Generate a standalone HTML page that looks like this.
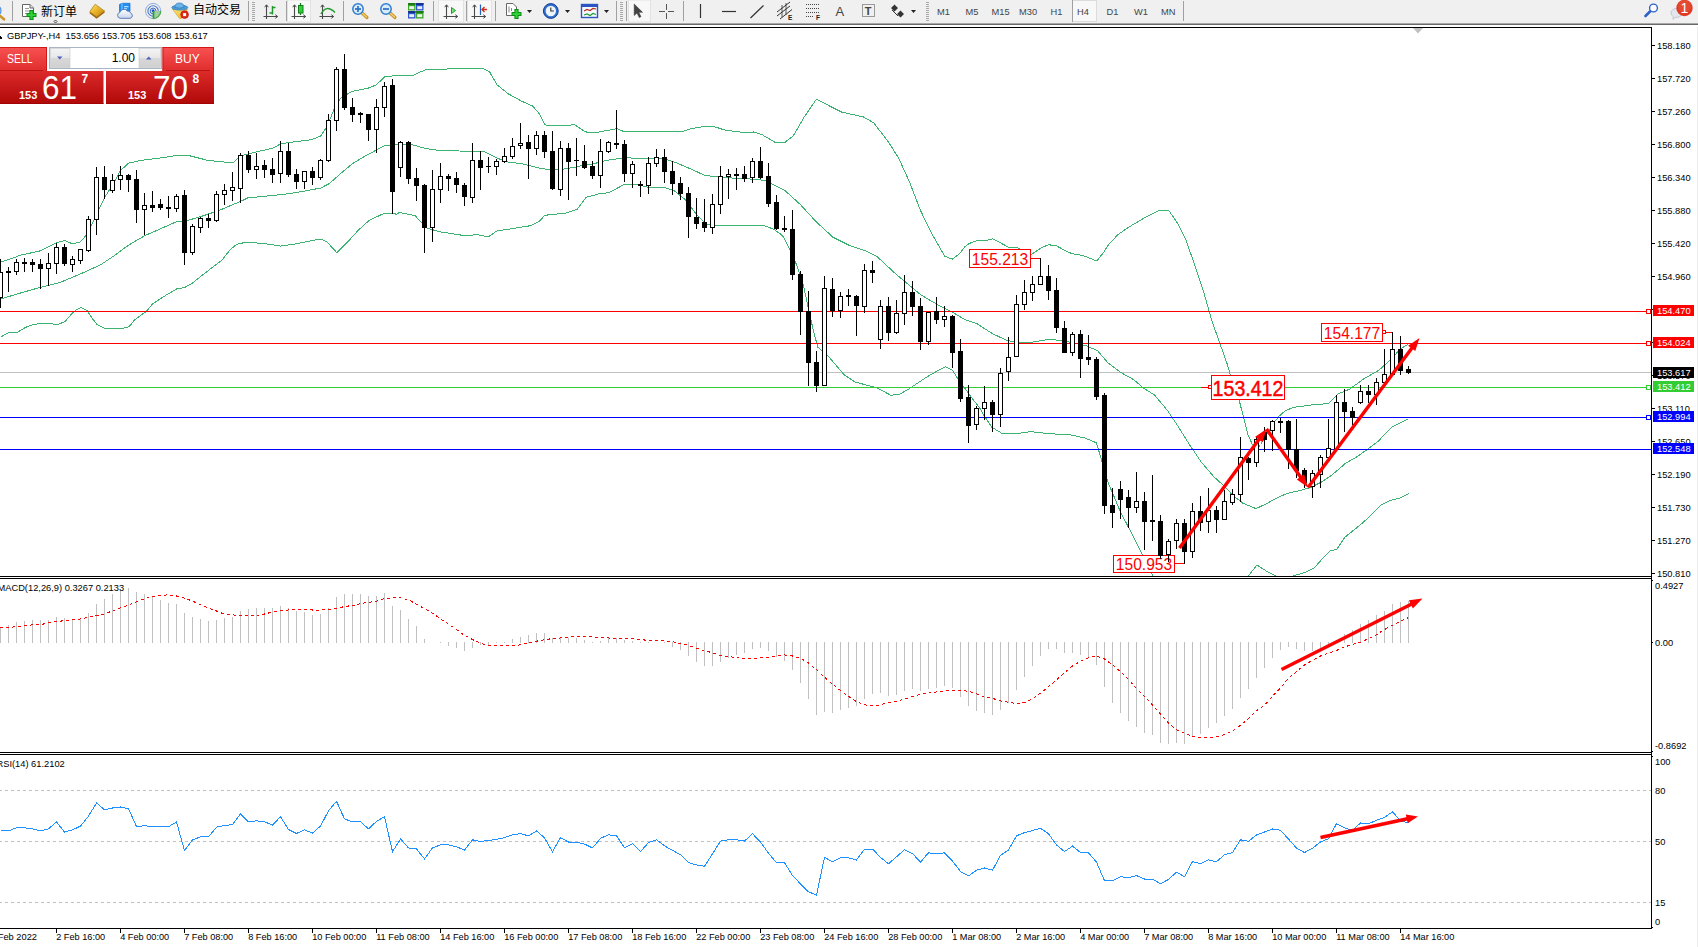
<!DOCTYPE html>
<html lang="zh"><head><meta charset="utf-8"><title>GBPJPY H4</title>
<style>
html,body{margin:0;padding:0;background:#fff}
body{width:1698px;height:947px;overflow:hidden;position:relative;font-family:"Liberation Sans","Noto Sans CJK SC",sans-serif}
svg{display:block}
</style></head><body>
<svg width="1698" height="947" viewBox="0 0 1698 947" style="position:absolute;left:0;top:0" shape-rendering="crispEdges" font-family="'Liberation Sans',sans-serif">
<defs><clipPath id="cm"><rect x="0" y="28" width="1651" height="548"/></clipPath><clipPath id="c2"><rect x="0" y="579" width="1651" height="173"/></clipPath><clipPath id="c3"><rect x="0" y="755" width="1651" height="173"/></clipPath></defs>
<rect x="0" y="27" width="1652" height="1" fill="#000"/>
<rect x="1651" y="27" width="1" height="902" fill="#000"/>
<rect x="0" y="576" width="1652" height="1" fill="#000"/>
<rect x="0" y="578" width="1652" height="1" fill="#000"/>
<rect x="0" y="752" width="1652" height="1" fill="#000"/>
<rect x="0" y="754" width="1652" height="1" fill="#000"/>
<rect x="0" y="928" width="1652" height="1" fill="#000"/>
<rect x="1697" y="24" width="1" height="923" fill="#ececec"/>
<polygon points="1413,28 1423,28 1418,33.5" fill="#c0c0c0" shape-rendering="geometricPrecision"/>
<g clip-path="url(#cm)">
<rect x="0" y="372" width="1651" height="1" fill="#c0c0c0"/>
<polyline points="0.5,262.3 10.5,258.9 20.5,255.2 40.5,250.8 56.5,242.8 64.5,240.5 72.5,243.8 80.5,241.8 86.5,234.8 94.5,218.7 104.5,197.7 112.5,185.0 120.5,170.6 128.5,163.2 140.5,160.5 160.5,158.0 176.5,155.5 188.5,155.5 200.5,158.5 207.5,160.3 233.1,162.9 240.8,155.8 258.5,151.4 273.0,148.1 281.0,143.6 311.8,139.6 320.7,135.9 327.3,125.9 334.0,109.3 340.5,98.2 351.7,91.5 369.5,87.8 376.1,84.9 385.0,76.7 396.5,75.5 412.9,75.4 426.2,69.4 452.8,68.9 483.8,68.9 489.4,71.6 497.1,84.9 508.2,93.8 521.5,101.1 532.6,106.0 539.3,113.7 544.8,124.8 552.6,125.9 574.8,124.8 584.7,131.5 587.2,132.2 598.2,132.2 617.1,128.6 624.8,132.0 647.0,131.1 669.2,131.1 682.5,131.5 691.4,128.6 704.7,126.4 713.5,126.4 724.6,130.0 744.6,132.6 753.5,132.0 762.3,134.8 775.6,142.6 780.5,143.0 784.9,142.4 793.3,135.8 803.9,117.5 816.5,99.1 829.2,105.8 841.9,112.2 863.0,116.8 873.6,122.7 888.3,141.7 898.9,158.6 909.5,181.9 920.0,209.3 930.6,231.5 944.7,256.2 952.2,259.2 959.6,253.6 964.9,246.7 969.1,243.5 976.5,240.9 986.1,240.7 992.5,238.8 999.9,242.5 1009.4,247.8 1017.9,248.0 1020.5,249.4 1026.5,254.0 1031.7,254.1 1035.9,251.5 1042.3,247.2 1048.6,244.8 1056.1,245.6 1065.6,250.9 1072.0,253.6 1081.5,255.2 1088.9,257.8 1096.9,261.0 1103.8,252.0 1109.0,244.0 1112.2,240.9 1117.6,234.9 1129.0,227.0 1143.3,218.5 1159.0,210.5 1168.9,210.5 1177.5,223.3 1186.1,240.4 1194.6,264.7 1203.2,290.4 1211.7,320.3 1220.3,344.6 1227.4,364.5 1233.3,385.0 1239.6,401.9 1243.9,418.8 1247.8,434.3 1252.4,444.7 1257.5,448.5 1260.5,444.5 1267.5,433.5 1275.2,421.0 1279.0,416.2 1285.5,410.5 1294.5,407.2 1311.5,405.0 1328.3,403.6 1337.8,394.1 1349.5,389.2 1364.2,378.6 1379.0,370.2 1391.7,358.6 1400.1,349.1 1408.6,343.8" fill="none" stroke="#3cb371" stroke-width="1" />
<polyline points="0.5,299.0 20.5,293.0 40.5,287.3 60.5,282.3 80.5,273.9 100.5,264.9 112.5,256.9 128.5,245.2 144.5,235.8 160.5,228.8 176.5,221.7 184.5,221.3 200.5,216.7 218.7,210.6 240.8,201.3 247.5,198.0 285.2,194.2 307.4,190.6 320.7,188.0 329.5,183.5 340.6,173.6 351.7,164.2 362.8,157.4 373.9,151.4 385.0,145.4 396.5,144.7 410.7,144.3 426.2,148.7 441.7,150.7 459.5,151.0 483.8,151.4 494.9,157.0 506.0,161.8 521.5,163.6 539.3,168.0 552.6,170.3 563.7,169.1 577.0,166.9 580.5,165.9 593.8,163.7 607.1,160.3 624.8,157.7 647.0,158.8 664.8,158.8 675.8,162.6 691.4,169.2 704.7,175.4 722.4,177.6 744.6,178.5 764.5,180.3 780.5,188.1 784.9,190.5 800.0,204.2 816.5,222.1 832.9,237.2 849.4,245.4 865.9,250.9 876.9,256.4 896.1,274.3 920.9,294.9 937.3,304.5 951.1,311.4 964.8,319.6 977.2,323.9 992.0,333.4 1006.7,340.4 1019.5,342.9 1034.2,341.9 1049.0,339.3 1059.5,340.4 1074.3,342.9 1087.0,346.1 1097.5,350.7 1108.1,363.0 1120.8,372.5 1133.5,379.5 1144.0,388.5 1154.5,395.0 1167.2,410.1 1177.8,425.9 1188.3,442.8 1201.0,461.8 1213.7,476.6 1224.2,486.1 1234.8,497.3 1240.5,500.9 1242.8,503.2 1256.0,508.6 1265.9,504.0 1275.8,498.5 1287.4,493.3 1298.9,490.8 1310.5,487.5 1322.0,481.7 1331.9,475.1 1345.1,463.6 1356.6,457.0 1368.2,448.7 1378.1,441.3 1391.7,427.2 1408.6,418.8" fill="none" stroke="#3cb371" stroke-width="1" />
<polyline points="0.5,337.1 8.1,333.0 17.0,332.6 25.8,327.3 32.2,324.8 38.5,323.8 52.5,323.8 56.3,325.0 65.1,321.6 71.5,314.0 76.5,309.6 81.0,307.7 86.7,310.2 91.8,317.8 96.8,324.2 105.1,328.8 120.9,328.8 129.1,326.7 134.8,319.7 139.9,315.9 146.3,311.5 152.5,303.9 165.3,295.6 176.7,288.9 184.3,287.6 191.9,283.6 200.5,276.6 222.0,260.0 229.8,250.1 236.4,244.5 245.3,242.3 263.0,243.4 280.8,246.1 296.3,243.8 311.8,240.7 320.7,239.0 327.3,242.3 336.9,252.7 347.3,242.3 358.4,230.1 369.5,220.1 385.0,213.0 396.5,214.1 399.5,212.4 415.1,215.7 426.2,227.9 439.5,231.7 465.0,235.7 477.2,234.6 488.3,236.8 497.1,230.8 512.7,228.6 530.4,225.7 539.3,221.3 544.8,215.3 565.9,213.0 577.0,209.5 580.5,204.7 586.0,197.4 598.2,194.0 609.3,192.5 624.8,184.1 638.1,184.7 647.0,187.0 662.5,187.0 673.6,190.3 684.7,199.1 695.8,213.6 706.9,224.6 715.8,225.8 764.5,225.8 773.4,229.1 780.5,234.0 783.5,237.2 794.5,259.2 802.7,282.5 813.7,332.0 817.8,347.1 827.5,355.3 843.9,374.5 854.9,382.0 876.9,387.8 890.6,395.2 898.9,394.6 909.9,388.3 926.4,377.3 937.3,371.0 945.6,366.9 952.5,370.4 962.1,385.5 964.5,387.7 970.8,396.8 979.3,407.3 985.5,417.9 992.0,427.4 1002.5,433.7 1017.3,433.7 1030.0,431.6 1049.0,433.7 1070.1,434.8 1084.9,438.0 1096.5,442.8 1101.7,460.8 1108.1,482.5 1120.7,512.5 1131.3,532.6 1141.9,553.7 1152.4,574.8 1160.5,590.5 1200.5,610.5 1240.5,590.5 1248.6,575.7 1256.9,565.0 1265.9,570.8 1275.8,576.1 1283.5,577.5 1292.3,576.1 1305.5,572.4 1313.8,568.3 1322.0,559.2 1330.2,551.0 1336.8,549.3 1345.1,537.0 1356.6,527.9 1368.2,518.0 1381.4,504.8 1389.6,500.7 1399.5,498.2 1408.6,493.6" fill="none" stroke="#3cb371" stroke-width="1" />
<rect x="0" y="311" width="1651" height="1" fill="#ff0000"/>
<rect x="0" y="343" width="1651" height="1" fill="#ff0000"/>
<rect x="0" y="387" width="1651" height="1" fill="#32cd32"/>
<rect x="0" y="417" width="1651" height="1" fill="#0000ff"/>
<rect x="0" y="449" width="1651" height="1" fill="#0000ff"/>
<rect x="1646.5" y="309.5" width="4" height="4" fill="#fff" stroke="#ff0000" stroke-width="1"/>
<rect x="1646.5" y="341.5" width="4" height="4" fill="#fff" stroke="#ff0000" stroke-width="1"/>
<rect x="1646.5" y="385.5" width="4" height="4" fill="#fff" stroke="#32cd32" stroke-width="1"/>
<rect x="1646.5" y="415.5" width="4" height="4" fill="#fff" stroke="#0000ff" stroke-width="1"/>
</g>
<rect x="969.5" y="249.5" width="61" height="18" fill="#fff" stroke="#ff0000" stroke-width="1"/><text transform="translate(1000.0,265.2) scale(1,1)" font-size="15.6" fill="#ff0000" text-anchor="middle">155.213</text>
<rect x="1030" y="258" width="10" height="1" fill="#ff0000"/>
<rect x="1113.5" y="555.5" width="61" height="17" fill="#fff" stroke="#ff0000" stroke-width="1"/><text transform="translate(1144.0,569.6) scale(1,1)" font-size="15.6" fill="#ff0000" text-anchor="middle">150.953</text>
<rect x="1174" y="563" width="11" height="1" fill="#ff0000"/>
<rect x="1184" y="558" width="1" height="5" fill="#ff0000"/>
<rect x="1321.5" y="323.5" width="61" height="18" fill="#fff" stroke="#ff0000" stroke-width="1"/><text transform="translate(1352.0,338.6) scale(1,1)" font-size="15.6" fill="#ff0000" text-anchor="middle">154.177</text>
<rect x="1382.5" y="330.5" width="3" height="3" fill="#fff" stroke="#ff0000"/>
<rect x="1386" y="332" width="6" height="1" fill="#ff0000"/>
<rect x="1201" y="387" width="7" height="1" fill="#ff0000"/>
<rect x="1208.5" y="385.5" width="3" height="3" fill="#fff" stroke="#ff0000"/>
<rect x="1211.5" y="375.5" width="73" height="24" fill="#fff" stroke="#ff0000" stroke-width="1"/><text transform="translate(1248.0,396) scale(1,1.085)" font-size="19.6" fill="#ff0000" text-anchor="middle" stroke="#ff0000" stroke-width="0.45">153.412</text>
<g clip-path="url(#cm)">
<rect x="0" y="259" width="1" height="49" fill="#000"/>
<rect x="-1.5" y="272.5" width="4" height="25" fill="#fff" stroke="#000" stroke-width="1"/>
<rect x="8" y="267" width="1" height="25" fill="#000"/>
<rect x="6" y="271" width="5" height="2" fill="#000"/>
<rect x="16" y="259" width="1" height="16" fill="#000"/>
<rect x="14.5" y="262.5" width="4" height="9" fill="#fff" stroke="#000" stroke-width="1"/>
<rect x="24" y="258" width="1" height="14" fill="#000"/>
<rect x="22" y="262" width="5" height="2" fill="#000"/>
<rect x="32" y="259" width="1" height="13" fill="#000"/>
<rect x="30" y="262" width="5" height="3" fill="#000"/>
<rect x="40" y="259" width="1" height="30" fill="#000"/>
<rect x="38" y="264" width="5" height="5" fill="#000"/>
<rect x="48" y="253" width="1" height="33" fill="#000"/>
<rect x="46.5" y="263.5" width="4" height="5" fill="#fff" stroke="#000" stroke-width="1"/>
<rect x="56" y="243" width="1" height="31" fill="#000"/>
<rect x="54.5" y="247.5" width="4" height="16" fill="#fff" stroke="#000" stroke-width="1"/>
<rect x="64" y="244" width="1" height="22" fill="#000"/>
<rect x="62" y="247" width="5" height="17" fill="#000"/>
<rect x="72" y="256" width="1" height="16" fill="#000"/>
<rect x="70.5" y="259.5" width="4" height="5" fill="#fff" stroke="#000" stroke-width="1"/>
<rect x="80" y="249" width="1" height="15" fill="#000"/>
<rect x="78.5" y="249.5" width="4" height="11" fill="#fff" stroke="#000" stroke-width="1"/>
<rect x="88" y="216" width="1" height="36" fill="#000"/>
<rect x="86.5" y="219.5" width="4" height="31" fill="#fff" stroke="#000" stroke-width="1"/>
<rect x="96" y="167" width="1" height="68" fill="#000"/>
<rect x="94.5" y="177.5" width="4" height="42" fill="#fff" stroke="#000" stroke-width="1"/>
<rect x="104" y="166" width="1" height="33" fill="#000"/>
<rect x="102" y="177" width="5" height="13" fill="#000"/>
<rect x="112" y="174" width="1" height="19" fill="#000"/>
<rect x="110.5" y="180.5" width="4" height="10" fill="#fff" stroke="#000" stroke-width="1"/>
<rect x="120" y="166" width="1" height="24" fill="#000"/>
<rect x="118.5" y="175.5" width="4" height="4" fill="#fff" stroke="#000" stroke-width="1"/>
<rect x="128" y="174" width="1" height="18" fill="#000"/>
<rect x="126" y="175" width="5" height="5" fill="#000"/>
<rect x="136" y="170" width="1" height="53" fill="#000"/>
<rect x="134" y="179" width="5" height="31" fill="#000"/>
<rect x="144" y="193" width="1" height="42" fill="#000"/>
<rect x="142.5" y="205.5" width="4" height="4" fill="#fff" stroke="#000" stroke-width="1"/>
<rect x="152" y="191" width="1" height="21" fill="#000"/>
<rect x="150" y="205" width="5" height="3" fill="#000"/>
<rect x="160" y="199" width="1" height="11" fill="#000"/>
<rect x="158" y="204" width="5" height="4" fill="#000"/>
<rect x="168" y="196" width="1" height="22" fill="#000"/>
<rect x="166" y="207" width="5" height="2" fill="#000"/>
<rect x="176" y="194" width="1" height="18" fill="#000"/>
<rect x="174.5" y="196.5" width="4" height="12" fill="#fff" stroke="#000" stroke-width="1"/>
<rect x="184" y="190" width="1" height="75" fill="#000"/>
<rect x="182" y="195" width="5" height="58" fill="#000"/>
<rect x="192" y="224" width="1" height="31" fill="#000"/>
<rect x="190.5" y="226.5" width="4" height="26" fill="#fff" stroke="#000" stroke-width="1"/>
<rect x="200" y="217" width="1" height="16" fill="#000"/>
<rect x="198.5" y="218.5" width="4" height="9" fill="#fff" stroke="#000" stroke-width="1"/>
<rect x="208" y="214" width="1" height="14" fill="#000"/>
<rect x="206" y="218" width="5" height="3" fill="#000"/>
<rect x="216" y="191" width="1" height="31" fill="#000"/>
<rect x="214.5" y="194.5" width="4" height="26" fill="#fff" stroke="#000" stroke-width="1"/>
<rect x="224" y="184" width="1" height="21" fill="#000"/>
<rect x="222.5" y="190.5" width="4" height="4" fill="#fff" stroke="#000" stroke-width="1"/>
<rect x="232" y="172" width="1" height="29" fill="#000"/>
<rect x="230.5" y="187.5" width="4" height="3" fill="#fff" stroke="#000" stroke-width="1"/>
<rect x="240" y="153" width="1" height="50" fill="#000"/>
<rect x="238.5" y="155.5" width="4" height="33" fill="#fff" stroke="#000" stroke-width="1"/>
<rect x="248" y="151" width="1" height="22" fill="#000"/>
<rect x="246" y="155" width="5" height="15" fill="#000"/>
<rect x="256" y="153" width="1" height="26" fill="#000"/>
<rect x="254.5" y="166.5" width="4" height="3" fill="#fff" stroke="#000" stroke-width="1"/>
<rect x="264" y="160" width="1" height="18" fill="#000"/>
<rect x="262" y="165" width="5" height="5" fill="#000"/>
<rect x="272" y="158" width="1" height="25" fill="#000"/>
<rect x="270" y="169" width="5" height="6" fill="#000"/>
<rect x="280" y="141" width="1" height="42" fill="#000"/>
<rect x="278.5" y="151.5" width="4" height="22" fill="#fff" stroke="#000" stroke-width="1"/>
<rect x="288" y="143" width="1" height="34" fill="#000"/>
<rect x="286" y="151" width="5" height="24" fill="#000"/>
<rect x="296" y="169" width="1" height="20" fill="#000"/>
<rect x="294" y="174" width="5" height="8" fill="#000"/>
<rect x="304" y="171" width="1" height="18" fill="#000"/>
<rect x="302.5" y="171.5" width="4" height="10" fill="#fff" stroke="#000" stroke-width="1"/>
<rect x="312" y="167" width="1" height="18" fill="#000"/>
<rect x="310" y="171" width="5" height="7" fill="#000"/>
<rect x="320" y="159" width="1" height="21" fill="#000"/>
<rect x="318.5" y="160.5" width="4" height="17" fill="#fff" stroke="#000" stroke-width="1"/>
<rect x="328" y="114" width="1" height="48" fill="#000"/>
<rect x="326.5" y="120.5" width="4" height="40" fill="#fff" stroke="#000" stroke-width="1"/>
<rect x="336" y="67" width="1" height="64" fill="#000"/>
<rect x="334.5" y="69.5" width="4" height="51" fill="#fff" stroke="#000" stroke-width="1"/>
<rect x="344" y="54" width="1" height="56" fill="#000"/>
<rect x="342" y="69" width="5" height="39" fill="#000"/>
<rect x="352" y="98" width="1" height="24" fill="#000"/>
<rect x="350" y="107" width="5" height="8" fill="#000"/>
<rect x="360" y="112" width="1" height="11" fill="#000"/>
<rect x="358" y="113" width="5" height="2" fill="#000"/>
<rect x="368" y="114" width="1" height="27" fill="#000"/>
<rect x="366" y="114" width="5" height="16" fill="#000"/>
<rect x="376" y="99" width="1" height="54" fill="#000"/>
<rect x="374.5" y="107.5" width="4" height="22" fill="#fff" stroke="#000" stroke-width="1"/>
<rect x="384" y="82" width="1" height="35" fill="#000"/>
<rect x="382.5" y="86.5" width="4" height="21" fill="#fff" stroke="#000" stroke-width="1"/>
<rect x="392" y="79" width="1" height="135" fill="#000"/>
<rect x="390" y="85" width="5" height="107" fill="#000"/>
<rect x="400" y="141" width="1" height="36" fill="#000"/>
<rect x="398.5" y="142.5" width="4" height="25" fill="#fff" stroke="#000" stroke-width="1"/>
<rect x="408" y="141" width="1" height="43" fill="#000"/>
<rect x="406" y="142" width="5" height="37" fill="#000"/>
<rect x="416" y="168" width="1" height="33" fill="#000"/>
<rect x="414" y="178" width="5" height="8" fill="#000"/>
<rect x="424" y="184" width="1" height="69" fill="#000"/>
<rect x="422" y="185" width="5" height="43" fill="#000"/>
<rect x="432" y="170" width="1" height="72" fill="#000"/>
<rect x="430.5" y="189.5" width="4" height="38" fill="#fff" stroke="#000" stroke-width="1"/>
<rect x="440" y="163" width="1" height="40" fill="#000"/>
<rect x="438.5" y="176.5" width="4" height="13" fill="#fff" stroke="#000" stroke-width="1"/>
<rect x="448" y="174" width="1" height="17" fill="#000"/>
<rect x="446" y="176" width="5" height="3" fill="#000"/>
<rect x="456" y="172" width="1" height="21" fill="#000"/>
<rect x="454" y="178" width="5" height="7" fill="#000"/>
<rect x="464" y="183" width="1" height="23" fill="#000"/>
<rect x="462" y="185" width="5" height="12" fill="#000"/>
<rect x="472" y="143" width="1" height="60" fill="#000"/>
<rect x="470.5" y="160.5" width="4" height="37" fill="#fff" stroke="#000" stroke-width="1"/>
<rect x="480" y="151" width="1" height="39" fill="#000"/>
<rect x="478" y="160" width="5" height="8" fill="#000"/>
<rect x="488" y="157" width="1" height="16" fill="#000"/>
<rect x="486" y="166" width="5" height="1" fill="#000"/>
<rect x="496" y="159" width="1" height="16" fill="#000"/>
<rect x="494.5" y="161.5" width="4" height="5" fill="#fff" stroke="#000" stroke-width="1"/>
<rect x="504" y="148" width="1" height="15" fill="#000"/>
<rect x="502.5" y="156.5" width="4" height="5" fill="#fff" stroke="#000" stroke-width="1"/>
<rect x="512" y="138" width="1" height="21" fill="#000"/>
<rect x="510.5" y="146.5" width="4" height="10" fill="#fff" stroke="#000" stroke-width="1"/>
<rect x="520" y="123" width="1" height="26" fill="#000"/>
<rect x="518.5" y="143.5" width="4" height="2" fill="#fff" stroke="#000" stroke-width="1"/>
<rect x="528" y="135" width="1" height="44" fill="#000"/>
<rect x="526" y="142" width="5" height="7" fill="#000"/>
<rect x="536" y="131" width="1" height="24" fill="#000"/>
<rect x="534.5" y="135.5" width="4" height="13" fill="#fff" stroke="#000" stroke-width="1"/>
<rect x="544" y="131" width="1" height="27" fill="#000"/>
<rect x="542" y="135" width="5" height="17" fill="#000"/>
<rect x="552" y="131" width="1" height="59" fill="#000"/>
<rect x="550" y="151" width="5" height="38" fill="#000"/>
<rect x="560" y="141" width="1" height="55" fill="#000"/>
<rect x="558.5" y="148.5" width="4" height="41" fill="#fff" stroke="#000" stroke-width="1"/>
<rect x="568" y="143" width="1" height="57" fill="#000"/>
<rect x="566" y="148" width="5" height="14" fill="#000"/>
<rect x="576" y="138" width="1" height="38" fill="#000"/>
<rect x="574" y="160" width="5" height="1" fill="#000"/>
<rect x="584" y="145" width="1" height="24" fill="#000"/>
<rect x="582" y="161" width="5" height="7" fill="#000"/>
<rect x="592" y="161" width="1" height="18" fill="#000"/>
<rect x="590" y="166" width="5" height="10" fill="#000"/>
<rect x="600" y="139" width="1" height="49" fill="#000"/>
<rect x="598.5" y="151.5" width="4" height="24" fill="#fff" stroke="#000" stroke-width="1"/>
<rect x="608" y="141" width="1" height="12" fill="#000"/>
<rect x="606.5" y="142.5" width="4" height="9" fill="#fff" stroke="#000" stroke-width="1"/>
<rect x="616" y="110" width="1" height="39" fill="#000"/>
<rect x="614" y="143" width="5" height="2" fill="#000"/>
<rect x="624" y="140" width="1" height="42" fill="#000"/>
<rect x="622" y="144" width="5" height="30" fill="#000"/>
<rect x="632" y="161" width="1" height="27" fill="#000"/>
<rect x="630.5" y="164.5" width="4" height="9" fill="#fff" stroke="#000" stroke-width="1"/>
<rect x="640" y="181" width="1" height="16" fill="#000"/>
<rect x="638" y="184" width="5" height="2" fill="#000"/>
<rect x="648" y="157" width="1" height="37" fill="#000"/>
<rect x="646.5" y="163.5" width="4" height="22" fill="#fff" stroke="#000" stroke-width="1"/>
<rect x="656" y="149" width="1" height="18" fill="#000"/>
<rect x="654.5" y="157.5" width="4" height="6" fill="#fff" stroke="#000" stroke-width="1"/>
<rect x="664" y="149" width="1" height="34" fill="#000"/>
<rect x="662" y="157" width="5" height="15" fill="#000"/>
<rect x="672" y="161" width="1" height="34" fill="#000"/>
<rect x="670" y="171" width="5" height="13" fill="#000"/>
<rect x="680" y="177" width="1" height="23" fill="#000"/>
<rect x="678" y="183" width="5" height="11" fill="#000"/>
<rect x="688" y="187" width="1" height="51" fill="#000"/>
<rect x="686" y="193" width="5" height="24" fill="#000"/>
<rect x="696" y="198" width="1" height="31" fill="#000"/>
<rect x="694" y="217" width="5" height="7" fill="#000"/>
<rect x="704" y="199" width="1" height="33" fill="#000"/>
<rect x="702" y="222" width="5" height="6" fill="#000"/>
<rect x="712" y="194" width="1" height="40" fill="#000"/>
<rect x="710.5" y="204.5" width="4" height="23" fill="#fff" stroke="#000" stroke-width="1"/>
<rect x="720" y="166" width="1" height="48" fill="#000"/>
<rect x="718.5" y="176.5" width="4" height="28" fill="#fff" stroke="#000" stroke-width="1"/>
<rect x="728" y="169" width="1" height="30" fill="#000"/>
<rect x="726.5" y="174.5" width="4" height="2" fill="#fff" stroke="#000" stroke-width="1"/>
<rect x="736" y="168" width="1" height="22" fill="#000"/>
<rect x="734" y="174" width="5" height="2" fill="#000"/>
<rect x="744" y="166" width="1" height="16" fill="#000"/>
<rect x="742" y="174" width="5" height="5" fill="#000"/>
<rect x="752" y="158" width="1" height="25" fill="#000"/>
<rect x="750.5" y="161.5" width="4" height="16" fill="#fff" stroke="#000" stroke-width="1"/>
<rect x="760" y="147" width="1" height="32" fill="#000"/>
<rect x="758" y="161" width="5" height="17" fill="#000"/>
<rect x="768" y="163" width="1" height="44" fill="#000"/>
<rect x="766" y="176" width="5" height="28" fill="#000"/>
<rect x="776" y="195" width="1" height="35" fill="#000"/>
<rect x="774" y="202" width="5" height="27" fill="#000"/>
<rect x="784" y="216" width="1" height="16" fill="#000"/>
<rect x="782" y="228" width="5" height="2" fill="#000"/>
<rect x="792" y="210" width="1" height="70" fill="#000"/>
<rect x="790" y="229" width="5" height="46" fill="#000"/>
<rect x="800" y="271" width="1" height="64" fill="#000"/>
<rect x="798" y="274" width="5" height="38" fill="#000"/>
<rect x="808" y="291" width="1" height="95" fill="#000"/>
<rect x="806" y="311" width="5" height="52" fill="#000"/>
<rect x="816" y="351" width="1" height="41" fill="#000"/>
<rect x="814" y="362" width="5" height="24" fill="#000"/>
<rect x="824" y="276" width="1" height="110" fill="#000"/>
<rect x="822.5" y="288.5" width="4" height="97" fill="#fff" stroke="#000" stroke-width="1"/>
<rect x="832" y="278" width="1" height="39" fill="#000"/>
<rect x="830" y="289" width="5" height="22" fill="#000"/>
<rect x="840" y="292" width="1" height="26" fill="#000"/>
<rect x="838.5" y="296.5" width="4" height="14" fill="#fff" stroke="#000" stroke-width="1"/>
<rect x="848" y="289" width="1" height="17" fill="#000"/>
<rect x="846" y="295" width="5" height="2" fill="#000"/>
<rect x="856" y="295" width="1" height="41" fill="#000"/>
<rect x="854" y="296" width="5" height="10" fill="#000"/>
<rect x="864" y="264" width="1" height="49" fill="#000"/>
<rect x="862.5" y="270.5" width="4" height="36" fill="#fff" stroke="#000" stroke-width="1"/>
<rect x="872" y="261" width="1" height="22" fill="#000"/>
<rect x="870" y="270" width="5" height="3" fill="#000"/>
<rect x="880" y="300" width="1" height="49" fill="#000"/>
<rect x="878.5" y="306.5" width="4" height="33" fill="#fff" stroke="#000" stroke-width="1"/>
<rect x="888" y="297" width="1" height="44" fill="#000"/>
<rect x="886" y="306" width="5" height="27" fill="#000"/>
<rect x="896" y="300" width="1" height="34" fill="#000"/>
<rect x="894.5" y="313.5" width="4" height="19" fill="#fff" stroke="#000" stroke-width="1"/>
<rect x="904" y="275" width="1" height="50" fill="#000"/>
<rect x="902.5" y="292.5" width="4" height="21" fill="#fff" stroke="#000" stroke-width="1"/>
<rect x="912" y="281" width="1" height="35" fill="#000"/>
<rect x="910" y="292" width="5" height="15" fill="#000"/>
<rect x="920" y="298" width="1" height="52" fill="#000"/>
<rect x="918" y="306" width="5" height="36" fill="#000"/>
<rect x="928" y="312" width="1" height="33" fill="#000"/>
<rect x="926.5" y="312.5" width="4" height="29" fill="#fff" stroke="#000" stroke-width="1"/>
<rect x="936" y="297" width="1" height="27" fill="#000"/>
<rect x="934" y="311" width="5" height="9" fill="#000"/>
<rect x="944" y="306" width="1" height="21" fill="#000"/>
<rect x="942.5" y="316.5" width="4" height="3" fill="#fff" stroke="#000" stroke-width="1"/>
<rect x="952" y="315" width="1" height="53" fill="#000"/>
<rect x="950" y="316" width="5" height="37" fill="#000"/>
<rect x="960" y="339" width="1" height="63" fill="#000"/>
<rect x="958" y="351" width="5" height="48" fill="#000"/>
<rect x="968" y="385" width="1" height="58" fill="#000"/>
<rect x="966" y="397" width="5" height="29" fill="#000"/>
<rect x="976" y="406" width="1" height="24" fill="#000"/>
<rect x="974.5" y="408.5" width="4" height="16" fill="#fff" stroke="#000" stroke-width="1"/>
<rect x="984" y="386" width="1" height="34" fill="#000"/>
<rect x="982.5" y="402.5" width="4" height="6" fill="#fff" stroke="#000" stroke-width="1"/>
<rect x="992" y="400" width="1" height="32" fill="#000"/>
<rect x="990" y="402" width="5" height="13" fill="#000"/>
<rect x="1000" y="368" width="1" height="59" fill="#000"/>
<rect x="998.5" y="373.5" width="4" height="41" fill="#fff" stroke="#000" stroke-width="1"/>
<rect x="1008" y="337" width="1" height="44" fill="#000"/>
<rect x="1006.5" y="357.5" width="4" height="14" fill="#fff" stroke="#000" stroke-width="1"/>
<rect x="1016" y="295" width="1" height="62" fill="#000"/>
<rect x="1014.5" y="304.5" width="4" height="52" fill="#fff" stroke="#000" stroke-width="1"/>
<rect x="1024" y="280" width="1" height="30" fill="#000"/>
<rect x="1022.5" y="292.5" width="4" height="12" fill="#fff" stroke="#000" stroke-width="1"/>
<rect x="1032" y="276" width="1" height="25" fill="#000"/>
<rect x="1030.5" y="284.5" width="4" height="8" fill="#fff" stroke="#000" stroke-width="1"/>
<rect x="1040" y="258" width="1" height="27" fill="#000"/>
<rect x="1038.5" y="276.5" width="4" height="8" fill="#fff" stroke="#000" stroke-width="1"/>
<rect x="1048" y="265" width="1" height="35" fill="#000"/>
<rect x="1046" y="276" width="5" height="15" fill="#000"/>
<rect x="1056" y="278" width="1" height="55" fill="#000"/>
<rect x="1054" y="290" width="5" height="38" fill="#000"/>
<rect x="1064" y="321" width="1" height="32" fill="#000"/>
<rect x="1062" y="328" width="5" height="25" fill="#000"/>
<rect x="1072" y="332" width="1" height="24" fill="#000"/>
<rect x="1070.5" y="334.5" width="4" height="18" fill="#fff" stroke="#000" stroke-width="1"/>
<rect x="1080" y="330" width="1" height="48" fill="#000"/>
<rect x="1078" y="334" width="5" height="25" fill="#000"/>
<rect x="1088" y="335" width="1" height="30" fill="#000"/>
<rect x="1086" y="357" width="5" height="3" fill="#000"/>
<rect x="1096" y="357" width="1" height="43" fill="#000"/>
<rect x="1094" y="359" width="5" height="38" fill="#000"/>
<rect x="1104" y="393" width="1" height="121" fill="#000"/>
<rect x="1102" y="395" width="5" height="111" fill="#000"/>
<rect x="1112" y="488" width="1" height="40" fill="#000"/>
<rect x="1110" y="505" width="5" height="8" fill="#000"/>
<rect x="1120" y="481" width="1" height="38" fill="#000"/>
<rect x="1118" y="489" width="5" height="11" fill="#000"/>
<rect x="1128" y="490" width="1" height="38" fill="#000"/>
<rect x="1126" y="497" width="5" height="11" fill="#000"/>
<rect x="1136" y="472" width="1" height="41" fill="#000"/>
<rect x="1134.5" y="501.5" width="4" height="6" fill="#fff" stroke="#000" stroke-width="1"/>
<rect x="1144" y="492" width="1" height="58" fill="#000"/>
<rect x="1142" y="501" width="5" height="21" fill="#000"/>
<rect x="1152" y="475" width="1" height="66" fill="#000"/>
<rect x="1150" y="520" width="5" height="2" fill="#000"/>
<rect x="1160" y="515" width="1" height="44" fill="#000"/>
<rect x="1158" y="521" width="5" height="35" fill="#000"/>
<rect x="1168" y="539" width="1" height="23" fill="#000"/>
<rect x="1166.5" y="541.5" width="4" height="13" fill="#fff" stroke="#000" stroke-width="1"/>
<rect x="1176" y="519" width="1" height="30" fill="#000"/>
<rect x="1174.5" y="523.5" width="4" height="17" fill="#fff" stroke="#000" stroke-width="1"/>
<rect x="1184" y="519" width="1" height="45" fill="#000"/>
<rect x="1182" y="523" width="5" height="29" fill="#000"/>
<rect x="1192" y="503" width="1" height="55" fill="#000"/>
<rect x="1190.5" y="511.5" width="4" height="40" fill="#fff" stroke="#000" stroke-width="1"/>
<rect x="1200" y="496" width="1" height="35" fill="#000"/>
<rect x="1198" y="511" width="5" height="12" fill="#000"/>
<rect x="1208" y="488" width="1" height="45" fill="#000"/>
<rect x="1206.5" y="510.5" width="4" height="11" fill="#fff" stroke="#000" stroke-width="1"/>
<rect x="1216" y="506" width="1" height="27" fill="#000"/>
<rect x="1214" y="510" width="5" height="10" fill="#000"/>
<rect x="1224" y="490" width="1" height="30" fill="#000"/>
<rect x="1222.5" y="501.5" width="4" height="18" fill="#fff" stroke="#000" stroke-width="1"/>
<rect x="1232" y="489" width="1" height="16" fill="#000"/>
<rect x="1230.5" y="494.5" width="4" height="8" fill="#fff" stroke="#000" stroke-width="1"/>
<rect x="1240" y="437" width="1" height="65" fill="#000"/>
<rect x="1238.5" y="457.5" width="4" height="37" fill="#fff" stroke="#000" stroke-width="1"/>
<rect x="1248" y="457" width="1" height="23" fill="#000"/>
<rect x="1246" y="458" width="5" height="5" fill="#000"/>
<rect x="1256" y="436" width="1" height="31" fill="#000"/>
<rect x="1254.5" y="439.5" width="4" height="23" fill="#fff" stroke="#000" stroke-width="1"/>
<rect x="1264" y="427" width="1" height="25" fill="#000"/>
<rect x="1262" y="432" width="5" height="8" fill="#000"/>
<rect x="1272" y="420" width="1" height="31" fill="#000"/>
<rect x="1270.5" y="421.5" width="4" height="9" fill="#fff" stroke="#000" stroke-width="1"/>
<rect x="1280" y="418" width="1" height="15" fill="#000"/>
<rect x="1278" y="421" width="5" height="2" fill="#000"/>
<rect x="1288" y="420" width="1" height="49" fill="#000"/>
<rect x="1286" y="421" width="5" height="29" fill="#000"/>
<rect x="1296" y="419" width="1" height="59" fill="#000"/>
<rect x="1294" y="449" width="5" height="22" fill="#000"/>
<rect x="1304" y="468" width="1" height="20" fill="#000"/>
<rect x="1302" y="470" width="5" height="13" fill="#000"/>
<rect x="1312" y="470" width="1" height="28" fill="#000"/>
<rect x="1310.5" y="473.5" width="4" height="13" fill="#fff" stroke="#000" stroke-width="1"/>
<rect x="1320" y="455" width="1" height="33" fill="#000"/>
<rect x="1318.5" y="457.5" width="4" height="17" fill="#fff" stroke="#000" stroke-width="1"/>
<rect x="1328" y="419" width="1" height="39" fill="#000"/>
<rect x="1326.5" y="448.5" width="4" height="9" fill="#fff" stroke="#000" stroke-width="1"/>
<rect x="1336" y="395" width="1" height="55" fill="#000"/>
<rect x="1334.5" y="402.5" width="4" height="47" fill="#fff" stroke="#000" stroke-width="1"/>
<rect x="1344" y="389" width="1" height="43" fill="#000"/>
<rect x="1342" y="402" width="5" height="10" fill="#000"/>
<rect x="1352" y="407" width="1" height="18" fill="#000"/>
<rect x="1350" y="411" width="5" height="7" fill="#000"/>
<rect x="1360" y="385" width="1" height="19" fill="#000"/>
<rect x="1358.5" y="391.5" width="4" height="11" fill="#fff" stroke="#000" stroke-width="1"/>
<rect x="1368" y="385" width="1" height="18" fill="#000"/>
<rect x="1366" y="391" width="5" height="4" fill="#000"/>
<rect x="1376" y="378" width="1" height="27" fill="#000"/>
<rect x="1374.5" y="382.5" width="4" height="12" fill="#fff" stroke="#000" stroke-width="1"/>
<rect x="1384" y="349" width="1" height="34" fill="#000"/>
<rect x="1382.5" y="374.5" width="4" height="8" fill="#fff" stroke="#000" stroke-width="1"/>
<rect x="1392" y="332" width="1" height="43" fill="#000"/>
<rect x="1390.5" y="349.5" width="4" height="25" fill="#fff" stroke="#000" stroke-width="1"/>
<rect x="1400" y="336" width="1" height="39" fill="#000"/>
<rect x="1398" y="349" width="5" height="22" fill="#000"/>
<rect x="1408" y="366" width="1" height="8" fill="#000"/>
<rect x="1406" y="369" width="5" height="4" fill="#000"/>
</g>
<g shape-rendering="geometricPrecision"><line x1="1179.5" y1="548.0" x2="1260.0" y2="437.9" stroke="#ff0000" stroke-width="3.4" stroke-linecap="butt"/><polygon points="1266.5,429.0 1262.5,442.2 1255.2,436.8" fill="#ff0000"/></g>
<g shape-rendering="geometricPrecision"><line x1="1266.5" y1="429.0" x2="1301.6" y2="478.5" stroke="#ff0000" stroke-width="3.4" stroke-linecap="butt"/><polygon points="1308.0,487.5 1296.8,479.5 1304.1,474.3" fill="#ff0000"/></g>
<g shape-rendering="geometricPrecision"><line x1="1308.0" y1="487.5" x2="1412.9" y2="346.8" stroke="#ff0000" stroke-width="3.4" stroke-linecap="butt"/><polygon points="1419.5,338.0 1415.3,351.1 1408.1,345.7" fill="#ff0000"/></g>
<g clip-path="url(#c2)">
<rect x="0" y="628" width="1" height="15" fill="#c0c0c0"/>
<rect x="8" y="625" width="1" height="18" fill="#c0c0c0"/>
<rect x="16" y="622" width="1" height="21" fill="#c0c0c0"/>
<rect x="24" y="621" width="1" height="22" fill="#c0c0c0"/>
<rect x="32" y="620" width="1" height="23" fill="#c0c0c0"/>
<rect x="40" y="620" width="1" height="23" fill="#c0c0c0"/>
<rect x="48" y="620" width="1" height="23" fill="#c0c0c0"/>
<rect x="56" y="617" width="1" height="26" fill="#c0c0c0"/>
<rect x="64" y="618" width="1" height="25" fill="#c0c0c0"/>
<rect x="72" y="619" width="1" height="24" fill="#c0c0c0"/>
<rect x="80" y="618" width="1" height="25" fill="#c0c0c0"/>
<rect x="88" y="613" width="1" height="30" fill="#c0c0c0"/>
<rect x="96" y="604" width="1" height="39" fill="#c0c0c0"/>
<rect x="104" y="599" width="1" height="44" fill="#c0c0c0"/>
<rect x="112" y="594" width="1" height="49" fill="#c0c0c0"/>
<rect x="120" y="589" width="1" height="54" fill="#c0c0c0"/>
<rect x="128" y="588" width="1" height="55" fill="#c0c0c0"/>
<rect x="136" y="592" width="1" height="51" fill="#c0c0c0"/>
<rect x="144" y="594" width="1" height="49" fill="#c0c0c0"/>
<rect x="152" y="597" width="1" height="46" fill="#c0c0c0"/>
<rect x="160" y="600" width="1" height="43" fill="#c0c0c0"/>
<rect x="168" y="603" width="1" height="40" fill="#c0c0c0"/>
<rect x="176" y="604" width="1" height="39" fill="#c0c0c0"/>
<rect x="184" y="613" width="1" height="30" fill="#c0c0c0"/>
<rect x="192" y="617" width="1" height="26" fill="#c0c0c0"/>
<rect x="200" y="619" width="1" height="24" fill="#c0c0c0"/>
<rect x="208" y="621" width="1" height="22" fill="#c0c0c0"/>
<rect x="216" y="620" width="1" height="23" fill="#c0c0c0"/>
<rect x="224" y="618" width="1" height="25" fill="#c0c0c0"/>
<rect x="232" y="617" width="1" height="26" fill="#c0c0c0"/>
<rect x="240" y="611" width="1" height="32" fill="#c0c0c0"/>
<rect x="248" y="609" width="1" height="34" fill="#c0c0c0"/>
<rect x="256" y="608" width="1" height="35" fill="#c0c0c0"/>
<rect x="264" y="608" width="1" height="35" fill="#c0c0c0"/>
<rect x="272" y="608" width="1" height="35" fill="#c0c0c0"/>
<rect x="280" y="606" width="1" height="37" fill="#c0c0c0"/>
<rect x="288" y="608" width="1" height="35" fill="#c0c0c0"/>
<rect x="296" y="611" width="1" height="32" fill="#c0c0c0"/>
<rect x="304" y="612" width="1" height="31" fill="#c0c0c0"/>
<rect x="312" y="615" width="1" height="28" fill="#c0c0c0"/>
<rect x="320" y="614" width="1" height="29" fill="#c0c0c0"/>
<rect x="328" y="608" width="1" height="35" fill="#c0c0c0"/>
<rect x="336" y="597" width="1" height="46" fill="#c0c0c0"/>
<rect x="344" y="594" width="1" height="49" fill="#c0c0c0"/>
<rect x="352" y="594" width="1" height="49" fill="#c0c0c0"/>
<rect x="360" y="594" width="1" height="49" fill="#c0c0c0"/>
<rect x="368" y="596" width="1" height="47" fill="#c0c0c0"/>
<rect x="376" y="596" width="1" height="47" fill="#c0c0c0"/>
<rect x="384" y="593" width="1" height="50" fill="#c0c0c0"/>
<rect x="392" y="606" width="1" height="37" fill="#c0c0c0"/>
<rect x="400" y="610" width="1" height="33" fill="#c0c0c0"/>
<rect x="408" y="619" width="1" height="24" fill="#c0c0c0"/>
<rect x="416" y="626" width="1" height="17" fill="#c0c0c0"/>
<rect x="424" y="639" width="1" height="4" fill="#c0c0c0"/>
<rect x="440" y="642" width="1" height="1" fill="#c0c0c0"/>
<rect x="448" y="642" width="1" height="4" fill="#c0c0c0"/>
<rect x="456" y="642" width="1" height="6" fill="#c0c0c0"/>
<rect x="464" y="642" width="1" height="9" fill="#c0c0c0"/>
<rect x="472" y="642" width="1" height="6" fill="#c0c0c0"/>
<rect x="480" y="642" width="1" height="3" fill="#c0c0c0"/>
<rect x="488" y="642" width="1" height="3" fill="#c0c0c0"/>
<rect x="496" y="642" width="1" height="1" fill="#c0c0c0"/>
<rect x="504" y="642" width="1" height="1" fill="#c0c0c0"/>
<rect x="512" y="639" width="1" height="4" fill="#c0c0c0"/>
<rect x="520" y="637" width="1" height="6" fill="#c0c0c0"/>
<rect x="528" y="635" width="1" height="8" fill="#c0c0c0"/>
<rect x="536" y="633" width="1" height="10" fill="#c0c0c0"/>
<rect x="544" y="633" width="1" height="10" fill="#c0c0c0"/>
<rect x="552" y="638" width="1" height="5" fill="#c0c0c0"/>
<rect x="560" y="638" width="1" height="5" fill="#c0c0c0"/>
<rect x="568" y="638" width="1" height="5" fill="#c0c0c0"/>
<rect x="576" y="638" width="1" height="5" fill="#c0c0c0"/>
<rect x="584" y="640" width="1" height="3" fill="#c0c0c0"/>
<rect x="592" y="642" width="1" height="1" fill="#c0c0c0"/>
<rect x="600" y="641" width="1" height="2" fill="#c0c0c0"/>
<rect x="608" y="638" width="1" height="5" fill="#c0c0c0"/>
<rect x="616" y="638" width="1" height="5" fill="#c0c0c0"/>
<rect x="624" y="640" width="1" height="3" fill="#c0c0c0"/>
<rect x="632" y="641" width="1" height="2" fill="#c0c0c0"/>
<rect x="640" y="642" width="1" height="1" fill="#c0c0c0"/>
<rect x="648" y="642" width="1" height="1" fill="#c0c0c0"/>
<rect x="664" y="642" width="1" height="1" fill="#c0c0c0"/>
<rect x="672" y="642" width="1" height="5" fill="#c0c0c0"/>
<rect x="680" y="642" width="1" height="8" fill="#c0c0c0"/>
<rect x="688" y="642" width="1" height="14" fill="#c0c0c0"/>
<rect x="696" y="642" width="1" height="20" fill="#c0c0c0"/>
<rect x="704" y="642" width="1" height="24" fill="#c0c0c0"/>
<rect x="712" y="642" width="1" height="24" fill="#c0c0c0"/>
<rect x="720" y="642" width="1" height="20" fill="#c0c0c0"/>
<rect x="728" y="642" width="1" height="16" fill="#c0c0c0"/>
<rect x="736" y="642" width="1" height="13" fill="#c0c0c0"/>
<rect x="744" y="642" width="1" height="11" fill="#c0c0c0"/>
<rect x="752" y="642" width="1" height="7" fill="#c0c0c0"/>
<rect x="760" y="642" width="1" height="6" fill="#c0c0c0"/>
<rect x="768" y="642" width="1" height="9" fill="#c0c0c0"/>
<rect x="776" y="642" width="1" height="15" fill="#c0c0c0"/>
<rect x="784" y="642" width="1" height="19" fill="#c0c0c0"/>
<rect x="792" y="642" width="1" height="28" fill="#c0c0c0"/>
<rect x="800" y="642" width="1" height="41" fill="#c0c0c0"/>
<rect x="808" y="642" width="1" height="57" fill="#c0c0c0"/>
<rect x="816" y="642" width="1" height="73" fill="#c0c0c0"/>
<rect x="824" y="642" width="1" height="70" fill="#c0c0c0"/>
<rect x="832" y="642" width="1" height="71" fill="#c0c0c0"/>
<rect x="840" y="642" width="1" height="68" fill="#c0c0c0"/>
<rect x="848" y="642" width="1" height="66" fill="#c0c0c0"/>
<rect x="856" y="642" width="1" height="64" fill="#c0c0c0"/>
<rect x="864" y="642" width="1" height="57" fill="#c0c0c0"/>
<rect x="872" y="642" width="1" height="52" fill="#c0c0c0"/>
<rect x="880" y="642" width="1" height="51" fill="#c0c0c0"/>
<rect x="888" y="642" width="1" height="54" fill="#c0c0c0"/>
<rect x="896" y="642" width="1" height="53" fill="#c0c0c0"/>
<rect x="904" y="642" width="1" height="49" fill="#c0c0c0"/>
<rect x="912" y="642" width="1" height="47" fill="#c0c0c0"/>
<rect x="920" y="642" width="1" height="49" fill="#c0c0c0"/>
<rect x="928" y="642" width="1" height="47" fill="#c0c0c0"/>
<rect x="936" y="642" width="1" height="46" fill="#c0c0c0"/>
<rect x="944" y="642" width="1" height="44" fill="#c0c0c0"/>
<rect x="952" y="642" width="1" height="46" fill="#c0c0c0"/>
<rect x="960" y="642" width="1" height="55" fill="#c0c0c0"/>
<rect x="968" y="642" width="1" height="64" fill="#c0c0c0"/>
<rect x="976" y="642" width="1" height="69" fill="#c0c0c0"/>
<rect x="984" y="642" width="1" height="71" fill="#c0c0c0"/>
<rect x="992" y="642" width="1" height="73" fill="#c0c0c0"/>
<rect x="1000" y="642" width="1" height="68" fill="#c0c0c0"/>
<rect x="1008" y="642" width="1" height="61" fill="#c0c0c0"/>
<rect x="1016" y="642" width="1" height="48" fill="#c0c0c0"/>
<rect x="1024" y="642" width="1" height="35" fill="#c0c0c0"/>
<rect x="1032" y="642" width="1" height="24" fill="#c0c0c0"/>
<rect x="1040" y="642" width="1" height="14" fill="#c0c0c0"/>
<rect x="1048" y="642" width="1" height="7" fill="#c0c0c0"/>
<rect x="1056" y="642" width="1" height="7" fill="#c0c0c0"/>
<rect x="1064" y="642" width="1" height="11" fill="#c0c0c0"/>
<rect x="1072" y="642" width="1" height="11" fill="#c0c0c0"/>
<rect x="1080" y="642" width="1" height="13" fill="#c0c0c0"/>
<rect x="1088" y="642" width="1" height="16" fill="#c0c0c0"/>
<rect x="1096" y="642" width="1" height="23" fill="#c0c0c0"/>
<rect x="1104" y="642" width="1" height="45" fill="#c0c0c0"/>
<rect x="1112" y="642" width="1" height="61" fill="#c0c0c0"/>
<rect x="1120" y="642" width="1" height="71" fill="#c0c0c0"/>
<rect x="1128" y="642" width="1" height="79" fill="#c0c0c0"/>
<rect x="1136" y="642" width="1" height="85" fill="#c0c0c0"/>
<rect x="1144" y="642" width="1" height="91" fill="#c0c0c0"/>
<rect x="1152" y="642" width="1" height="93" fill="#c0c0c0"/>
<rect x="1160" y="642" width="1" height="101" fill="#c0c0c0"/>
<rect x="1168" y="642" width="1" height="102" fill="#c0c0c0"/>
<rect x="1176" y="642" width="1" height="101" fill="#c0c0c0"/>
<rect x="1184" y="642" width="1" height="102" fill="#c0c0c0"/>
<rect x="1192" y="642" width="1" height="95" fill="#c0c0c0"/>
<rect x="1200" y="642" width="1" height="92" fill="#c0c0c0"/>
<rect x="1208" y="642" width="1" height="86" fill="#c0c0c0"/>
<rect x="1216" y="642" width="1" height="81" fill="#c0c0c0"/>
<rect x="1224" y="642" width="1" height="74" fill="#c0c0c0"/>
<rect x="1232" y="642" width="1" height="67" fill="#c0c0c0"/>
<rect x="1240" y="642" width="1" height="56" fill="#c0c0c0"/>
<rect x="1248" y="642" width="1" height="47" fill="#c0c0c0"/>
<rect x="1256" y="642" width="1" height="36" fill="#c0c0c0"/>
<rect x="1264" y="642" width="1" height="26" fill="#c0c0c0"/>
<rect x="1272" y="642" width="1" height="16" fill="#c0c0c0"/>
<rect x="1280" y="642" width="1" height="8" fill="#c0c0c0"/>
<rect x="1288" y="642" width="1" height="5" fill="#c0c0c0"/>
<rect x="1296" y="642" width="1" height="7" fill="#c0c0c0"/>
<rect x="1304" y="642" width="1" height="9" fill="#c0c0c0"/>
<rect x="1312" y="642" width="1" height="9" fill="#c0c0c0"/>
<rect x="1320" y="642" width="1" height="8" fill="#c0c0c0"/>
<rect x="1328" y="642" width="1" height="3" fill="#c0c0c0"/>
<rect x="1336" y="640" width="1" height="3" fill="#c0c0c0"/>
<rect x="1344" y="634" width="1" height="9" fill="#c0c0c0"/>
<rect x="1352" y="630" width="1" height="13" fill="#c0c0c0"/>
<rect x="1360" y="624" width="1" height="19" fill="#c0c0c0"/>
<rect x="1368" y="620" width="1" height="23" fill="#c0c0c0"/>
<rect x="1376" y="615" width="1" height="28" fill="#c0c0c0"/>
<rect x="1384" y="611" width="1" height="32" fill="#c0c0c0"/>
<rect x="1392" y="604" width="1" height="39" fill="#c0c0c0"/>
<rect x="1400" y="602" width="1" height="41" fill="#c0c0c0"/>
<rect x="1408" y="601" width="1" height="42" fill="#c0c0c0"/>
<polyline points="0.5,628.0 8.5,627.4 16.5,626.7 24.5,625.7 32.5,624.8 40.5,624.8 48.5,622.7 56.5,621.7 64.5,620.6 72.5,620.0 80.5,618.9 88.5,617.2 96.5,615.7 104.5,614.0 112.5,610.8 120.5,607.9 128.5,605.1 136.5,601.9 144.5,598.8 152.5,596.6 160.5,595.2 168.5,594.9 176.5,596.0 184.5,598.1 192.5,601.1 200.5,604.7 208.5,607.9 216.5,611.0 224.5,614.2 232.5,614.9 240.5,615.5 248.5,616.0 256.5,615.5 264.5,614.0 272.5,612.0 280.5,610.4 288.5,610.0 296.5,609.5 304.5,609.5 312.5,610.0 320.5,610.0 328.5,609.8 336.5,608.5 344.5,606.5 352.5,605.5 360.5,603.6 368.5,602.4 376.5,601.3 384.5,598.3 392.5,597.9 400.5,597.9 408.5,599.8 416.5,604.1 424.5,608.7 432.5,613.2 440.5,618.9 448.5,624.2 456.5,629.5 464.5,635.4 472.5,639.5 480.5,643.3 488.5,645.4 496.5,645.8 504.5,645.8 512.5,645.8 520.5,644.8 528.5,642.6 536.5,641.2 544.5,639.7 552.5,638.6 560.5,638.0 568.5,636.9 576.5,636.1 584.5,636.9 592.5,636.9 600.5,637.8 608.5,638.0 616.5,638.6 624.5,638.8 632.5,638.8 640.5,639.5 648.5,640.5 656.5,640.7 664.5,640.7 672.5,641.6 680.5,643.7 688.5,645.4 696.5,648.2 704.5,650.7 712.5,652.8 720.5,655.4 728.5,656.4 736.5,657.7 744.5,658.8 752.5,658.8 760.5,657.7 768.5,657.1 776.5,656.0 784.5,654.9 792.5,656.0 800.5,658.1 808.5,663.0 816.5,669.8 824.5,677.2 832.5,684.2 840.5,690.6 848.5,696.3 856.5,701.6 864.5,704.8 872.5,705.8 880.5,704.8 888.5,702.6 896.5,701.6 904.5,699.0 912.5,696.7 920.5,694.2 928.5,693.1 936.5,692.0 944.5,691.0 952.5,690.3 960.5,690.3 968.5,691.4 976.5,693.7 984.5,696.9 992.5,698.4 1000.5,700.9 1008.5,702.2 1016.5,703.7 1024.5,702.6 1032.5,699.0 1040.5,693.1 1048.5,686.7 1056.5,679.9 1064.5,672.7 1072.5,666.0 1080.5,661.1 1088.5,657.7 1096.5,656.0 1104.5,658.9 1112.5,664.9 1120.5,671.6 1128.5,679.5 1136.5,688.4 1144.5,696.2 1152.5,705.2 1160.5,714.1 1168.5,723.1 1176.5,729.8 1184.5,733.2 1192.5,736.5 1200.5,737.6 1208.5,737.6 1216.5,736.5 1224.5,734.7 1232.5,730.9 1240.5,725.3 1248.5,718.6 1256.5,710.8 1264.5,705.2 1272.5,696.2 1280.5,688.0 1288.5,678.3 1296.5,671.6 1304.5,664.9 1312.5,660.4 1320.5,656.0 1328.5,653.3 1336.5,650.4 1344.5,647.0 1352.5,644.3 1360.5,642.1 1368.5,638.7 1376.5,634.7 1384.5,629.5 1392.5,625.1 1400.5,621.3 1408.5,617.5" fill="none" stroke="#ff0000" stroke-width="1" stroke-dasharray="3 3"/>
</g>
<g clip-path="url(#c3)">
<line x1="0" y1="790.5" x2="1651" y2="790.5" stroke="#c0c0c0" stroke-width="1" stroke-dasharray="3 3" stroke-dashoffset="1"/>
<line x1="0" y1="841.5" x2="1651" y2="841.5" stroke="#c0c0c0" stroke-width="1" stroke-dasharray="3 3" stroke-dashoffset="1"/>
<line x1="0" y1="902.5" x2="1651" y2="902.5" stroke="#c0c0c0" stroke-width="1" stroke-dasharray="3 3" stroke-dashoffset="1"/>
<polyline points="0.5,830.9 8.5,830.9 16.5,827.8 24.5,827.8 32.5,828.8 40.5,830.9 48.5,828.8 56.5,822.0 64.5,832.0 72.5,829.9 80.5,826.1 88.5,816.1 96.5,803.0 104.5,809.7 112.5,808.0 120.5,807.0 128.5,808.7 136.5,826.7 144.5,825.6 152.5,826.7 160.5,826.7 168.5,826.7 176.5,822.0 184.5,850.7 192.5,839.8 200.5,836.9 208.5,836.9 216.5,827.1 224.5,825.6 232.5,824.6 240.5,814.0 248.5,821.8 256.5,820.8 264.5,821.8 272.5,825.0 280.5,816.7 288.5,829.5 296.5,833.5 304.5,829.9 312.5,833.1 320.5,826.1 328.5,810.8 336.5,801.3 344.5,818.9 352.5,821.8 360.5,821.8 368.5,828.8 376.5,821.4 384.5,816.7 392.5,851.7 400.5,839.0 408.5,847.9 416.5,849.0 424.5,858.9 432.5,847.9 440.5,844.9 448.5,844.9 456.5,846.8 464.5,850.0 472.5,839.8 480.5,841.5 488.5,840.5 496.5,839.4 504.5,837.7 512.5,834.8 520.5,833.7 528.5,835.8 536.5,830.9 544.5,837.9 552.5,851.7 560.5,837.7 568.5,842.0 576.5,842.0 584.5,844.1 592.5,847.9 600.5,838.4 608.5,834.8 616.5,835.8 624.5,847.9 632.5,843.7 640.5,851.7 648.5,842.6 656.5,839.8 664.5,845.8 672.5,850.4 680.5,854.7 688.5,862.7 696.5,864.9 704.5,866.3 712.5,853.8 720.5,841.1 728.5,839.8 736.5,839.8 744.5,841.1 752.5,833.7 760.5,842.0 768.5,853.2 776.5,862.7 784.5,862.7 792.5,875.5 800.5,883.9 808.5,891.8 816.5,895.0 824.5,857.4 832.5,861.7 840.5,857.9 848.5,857.9 856.5,860.0 864.5,849.0 872.5,849.0 880.5,857.4 888.5,863.8 896.5,856.8 904.5,849.6 912.5,853.6 920.5,862.1 928.5,852.8 936.5,853.8 944.5,852.8 952.5,861.0 960.5,871.6 968.5,875.9 976.5,870.2 984.5,868.0 992.5,870.2 1000.5,855.3 1008.5,850.0 1016.5,835.8 1024.5,832.6 1032.5,830.5 1040.5,828.4 1048.5,833.7 1056.5,845.0 1064.5,851.6 1072.5,846.1 1080.5,852.5 1088.5,852.8 1096.5,862.2 1104.5,880.7 1112.5,880.7 1120.5,876.7 1128.5,877.8 1136.5,875.6 1144.5,879.0 1152.5,879.0 1160.5,883.9 1168.5,879.4 1176.5,872.2 1184.5,876.7 1192.5,861.5 1200.5,863.7 1208.5,859.9 1216.5,861.7 1224.5,854.8 1232.5,852.5 1240.5,839.8 1248.5,841.4 1256.5,834.9 1264.5,832.0 1272.5,829.0 1280.5,830.2 1288.5,839.1 1296.5,848.1 1304.5,852.5 1312.5,848.3 1320.5,842.0 1328.5,838.7 1336.5,823.7 1344.5,827.9 1352.5,830.2 1360.5,823.0 1368.5,823.7 1376.5,820.3 1384.5,817.4 1392.5,811.8 1400.5,820.8 1408.5,823.0" fill="none" stroke="#1e90ff" stroke-width="1" />
</g>
<g shape-rendering="geometricPrecision"><line x1="1281.5" y1="669.5" x2="1412.7" y2="603.4" stroke="#ff0000" stroke-width="3.4" stroke-linecap="butt"/><polygon points="1422.5,598.5 1412.9,608.4 1408.9,600.3" fill="#ff0000"/></g>
<g shape-rendering="geometricPrecision"><line x1="1320.5" y1="837.5" x2="1408.7" y2="818.5" stroke="#ff0000" stroke-width="3.4" stroke-linecap="butt"/><polygon points="1418.0,816.5 1407.7,823.3 1405.8,814.5" fill="#ff0000"/></g>
<rect x="1652" y="45" width="3" height="1" fill="#000"/>
<text x="1657" y="48.99999999999999" font-size="9.3" fill="#000">158.180</text>
<rect x="1652" y="78" width="3" height="1" fill="#000"/>
<text x="1657" y="82.0" font-size="9.3" fill="#000">157.720</text>
<rect x="1652" y="111" width="3" height="1" fill="#000"/>
<text x="1657" y="115.0" font-size="9.3" fill="#000">157.260</text>
<rect x="1652" y="144" width="3" height="1" fill="#000"/>
<text x="1657" y="148.00000000000003" font-size="9.3" fill="#000">156.800</text>
<rect x="1652" y="177" width="3" height="1" fill="#000"/>
<text x="1657" y="181.00000000000003" font-size="9.3" fill="#000">156.340</text>
<rect x="1652" y="210" width="3" height="1" fill="#000"/>
<text x="1657" y="214.00000000000003" font-size="9.3" fill="#000">155.880</text>
<rect x="1652" y="243" width="3" height="1" fill="#000"/>
<text x="1657" y="247.00000000000003" font-size="9.3" fill="#000">155.420</text>
<rect x="1652" y="276" width="3" height="1" fill="#000"/>
<text x="1657" y="280.0" font-size="9.3" fill="#000">154.960</text>
<rect x="1652" y="309" width="3" height="1" fill="#000"/>
<text x="1657" y="313.0" font-size="9.3" fill="#000">154.500</text>
<rect x="1652" y="342" width="3" height="1" fill="#000"/>
<text x="1657" y="346.0" font-size="9.3" fill="#000">154.040</text>
<rect x="1652" y="375" width="3" height="1" fill="#000"/>
<text x="1657" y="379.0" font-size="9.3" fill="#000">153.570</text>
<rect x="1652" y="408" width="3" height="1" fill="#000"/>
<text x="1657" y="412.0" font-size="9.3" fill="#000">153.110</text>
<rect x="1652" y="441" width="3" height="1" fill="#000"/>
<text x="1657" y="445.0" font-size="9.3" fill="#000">152.650</text>
<rect x="1652" y="474" width="3" height="1" fill="#000"/>
<text x="1657" y="478.0" font-size="9.3" fill="#000">152.190</text>
<rect x="1652" y="507" width="3" height="1" fill="#000"/>
<text x="1657" y="511.0" font-size="9.3" fill="#000">151.730</text>
<rect x="1652" y="540" width="3" height="1" fill="#000"/>
<text x="1657" y="543.9999999999999" font-size="9.3" fill="#000">151.270</text>
<rect x="1652" y="573" width="3" height="1" fill="#000"/>
<text x="1657" y="576.9999999999999" font-size="9.3" fill="#000">150.810</text>
<rect x="1653" y="305" width="41" height="11" fill="#ff0000"/>
<text x="1657" y="314.2" font-size="9.3" fill="#fff">154.470</text>
<rect x="1653" y="337" width="41" height="11" fill="#ff0000"/>
<text x="1657" y="346.2" font-size="9.3" fill="#fff">154.024</text>
<rect x="1653" y="367" width="41" height="11" fill="#000000"/>
<text x="1657" y="376.2" font-size="9.3" fill="#fff">153.617</text>
<rect x="1653" y="381" width="41" height="11" fill="#32cd32"/>
<text x="1657" y="390.2" font-size="9.3" fill="#fff">153.412</text>
<rect x="1653" y="411" width="41" height="11" fill="#0000ff"/>
<text x="1657" y="420.2" font-size="9.3" fill="#fff">152.994</text>
<rect x="1653" y="443" width="41" height="11" fill="#0000ff"/>
<text x="1657" y="452.2" font-size="9.3" fill="#fff">152.548</text>
<rect x="1652" y="580" width="1" height="1" fill="#000"/>
<rect x="1652" y="642" width="1" height="1" fill="#000"/>
<rect x="1652" y="751" width="1" height="1" fill="#000"/>
<rect x="1652" y="756" width="1" height="1" fill="#000"/>
<rect x="1652" y="927" width="1" height="1" fill="#000"/>
<text x="1655" y="588.9" font-size="9.3" fill="#000">0.4927</text>
<text x="1655" y="645.9" font-size="9.3" fill="#000">0.00</text>
<text x="1655" y="748.9" font-size="9.3" fill="#000">-0.8692</text>
<text x="1655" y="765.0" font-size="9.3" fill="#000">100</text>
<text x="1655" y="794.0" font-size="9.3" fill="#000">80</text>
<text x="1655" y="844.9" font-size="9.3" fill="#000">50</text>
<text x="1655" y="905.8" font-size="9.3" fill="#000">15</text>
<text x="1655" y="924.8" font-size="9.3" fill="#000">0</text>
<rect x="56" y="929" width="1" height="4" fill="#000"/>
<text x="56.2" y="940.3" font-size="9.2" fill="#000">2 Feb 16:00</text>
<rect x="120" y="929" width="1" height="4" fill="#000"/>
<text x="120.2" y="940.3" font-size="9.2" fill="#000">4 Feb 00:00</text>
<rect x="184" y="929" width="1" height="4" fill="#000"/>
<text x="184.2" y="940.3" font-size="9.2" fill="#000">7 Feb 08:00</text>
<rect x="248" y="929" width="1" height="4" fill="#000"/>
<text x="248.2" y="940.3" font-size="9.2" fill="#000">8 Feb 16:00</text>
<rect x="312" y="929" width="1" height="4" fill="#000"/>
<text x="312.2" y="940.3" font-size="9.2" fill="#000">10 Feb 00:00</text>
<rect x="376" y="929" width="1" height="4" fill="#000"/>
<text x="376.2" y="940.3" font-size="9.2" fill="#000">11 Feb 08:00</text>
<rect x="440" y="929" width="1" height="4" fill="#000"/>
<text x="440.2" y="940.3" font-size="9.2" fill="#000">14 Feb 16:00</text>
<rect x="504" y="929" width="1" height="4" fill="#000"/>
<text x="504.2" y="940.3" font-size="9.2" fill="#000">16 Feb 00:00</text>
<rect x="568" y="929" width="1" height="4" fill="#000"/>
<text x="568.2" y="940.3" font-size="9.2" fill="#000">17 Feb 08:00</text>
<rect x="632" y="929" width="1" height="4" fill="#000"/>
<text x="632.2" y="940.3" font-size="9.2" fill="#000">18 Feb 16:00</text>
<rect x="696" y="929" width="1" height="4" fill="#000"/>
<text x="696.2" y="940.3" font-size="9.2" fill="#000">22 Feb 00:00</text>
<rect x="760" y="929" width="1" height="4" fill="#000"/>
<text x="760.2" y="940.3" font-size="9.2" fill="#000">23 Feb 08:00</text>
<rect x="824" y="929" width="1" height="4" fill="#000"/>
<text x="824.2" y="940.3" font-size="9.2" fill="#000">24 Feb 16:00</text>
<rect x="888" y="929" width="1" height="4" fill="#000"/>
<text x="888.2" y="940.3" font-size="9.2" fill="#000">28 Feb 00:00</text>
<rect x="952" y="929" width="1" height="4" fill="#000"/>
<text x="952.2" y="940.3" font-size="9.2" fill="#000">1 Mar 08:00</text>
<rect x="1016" y="929" width="1" height="4" fill="#000"/>
<text x="1016.2" y="940.3" font-size="9.2" fill="#000">2 Mar 16:00</text>
<rect x="1080" y="929" width="1" height="4" fill="#000"/>
<text x="1080.2" y="940.3" font-size="9.2" fill="#000">4 Mar 00:00</text>
<rect x="1144" y="929" width="1" height="4" fill="#000"/>
<text x="1144.2" y="940.3" font-size="9.2" fill="#000">7 Mar 08:00</text>
<rect x="1208" y="929" width="1" height="4" fill="#000"/>
<text x="1208.2" y="940.3" font-size="9.2" fill="#000">8 Mar 16:00</text>
<rect x="1272" y="929" width="1" height="4" fill="#000"/>
<text x="1272.2" y="940.3" font-size="9.2" fill="#000">10 Mar 00:00</text>
<rect x="1336" y="929" width="1" height="4" fill="#000"/>
<text x="1336.2" y="940.3" font-size="9.2" fill="#000">11 Mar 08:00</text>
<rect x="1400" y="929" width="1" height="4" fill="#000"/>
<text x="1400.2" y="940.3" font-size="9.2" fill="#000">14 Mar 16:00</text>
<text x="37" y="940.3" font-size="9.3" fill="#000" text-anchor="end">1 Feb 2022</text>
<polygon points="0,35 2.5,38.5 0,38.5" fill="#000"/>
<text x="7" y="38.8" font-size="9.3" fill="#000">GBPJPY-,H4&#160;&#160;153.656 153.705 153.608 153.617</text>
<text x="-2.5" y="590.8" font-size="9.3" fill="#000">MACD(12,26,9) 0.3267 0.2133</text>
<text x="-3.5" y="766.8" font-size="9.3" fill="#000">RSI(14) 61.2102</text>
</svg>
<svg width="1698" height="27" viewBox="0 0 1698 27" style="position:absolute;left:0;top:0" font-family="'Liberation Sans','Noto Sans CJK SC',sans-serif">
<rect x="0" y="0" width="1698" height="23" fill="#f0f0f0"/>
<rect x="0" y="23" width="1698" height="1" fill="#a8a8a8"/>
<rect x="0" y="24" width="1698" height="1" fill="#6a6a6a"/>
<rect x="0" y="25" width="1698" height="2" fill="#ffffff"/>
<path d="M-1 15 L4 19.300" stroke="#c9962a" stroke-width="2.600" stroke-linecap="round"/><circle cx="-4" cy="10.500" r="5" fill="#cfe4fb" stroke="#4a8fe0" stroke-width="1.200"/>
<rect x="12" y="1" width="1" height="20" fill="#a0a0a0"/>
<path d="M22.5 4.5 H30 L33.5 8 V16.5 H22.5 Z" fill="#fff" stroke="#666" stroke-width="1"/><path d="M30 4.5 V8 H33.5" fill="#ddd" stroke="#666" stroke-width="1"/><path d="M25 8.5h4M25 11h6M25 13.5h4" stroke="#999" stroke-width="1"/>
<path d="M31.5 10 V20 M26.5 15 H36.5" stroke="#0a8f12" stroke-width="4.2"/><path d="M31.5 11 V19 M27.5 15 H35.5" stroke="#2fd03a" stroke-width="2.2"/>
<text x="41" y="15.5" font-size="12" fill="#000">新订单</text>
<defs><linearGradient id="gb" x1="0" y1="0" x2="1" y2="1"><stop offset="0" stop-color="#ffe35a"/><stop offset=".6" stop-color="#e0a820"/><stop offset="1" stop-color="#b87a10"/></linearGradient><linearGradient id="gc" x1="0" y1="0" x2="0" y2="1"><stop offset="0" stop-color="#ffffff"/><stop offset="1" stop-color="#c9d6ec"/></linearGradient><linearGradient id="gf" x1="0" y1="0" x2="1" y2="1"><stop offset="0" stop-color="#ffe878"/><stop offset="1" stop-color="#e8b020"/></linearGradient></defs>
<path d="M89.500 13.200 L96.600 18.700 L104.700 12.500 L104.200 10.500 L96.800 16.500 L90.200 11.500 Z" fill="#9a6410"/>
<path d="M95.200 4.200 L104.500 11 L96.800 16.800 L89.800 11.800 Q92 8 95.200 4.200 Z" fill="url(#gb)" stroke="#b07c18" stroke-width=".7"/>
<path d="M119.500 4.500 L122 3.300 H130 V11.500 H119.500 Z" fill="#1e8ff5" stroke="#1668c8" stroke-width=".7"/><path d="M122 3.300 V11.500" stroke="#8cc8ff" stroke-width="1"/><path d="M124 6.700 h4.500 M124 8.800 h3" stroke="#d8ecff" stroke-width="1"/>
<path d="M120.200 18.300 a3 3 0 0 1 -0.300 -5.900 a4 3.600 0 0 1 7.400 -1.300 a2.800 2.800 0 0 1 3.300 2 a2.700 2.700 0 0 1 -0.600 5.200 Z" fill="url(#gc)" stroke="#4f72b2" stroke-width=".9"/>
<path d="M153.100 11 L160.900 11 A7.800 7.800 0 0 1 153.100 18.800 Z" fill="#8fc98f" opacity=".85"/>
<path d="M153.100 18.600 A7.600 7.600 0 1 1 160.700 11" fill="none" stroke="#7f9fdc" stroke-width="1" opacity=".85"/><path d="M153.100 16.200 A5.200 5.200 0 1 1 158.300 11" fill="none" stroke="#4a78cc" stroke-width="1.100"/><path d="M153.100 13.900 A2.900 2.900 0 1 1 156 11" fill="none" stroke="#3a68c4" stroke-width="1"/><circle cx="153.100" cy="10.800" r="1.500" fill="#1f4fc0"/>
<path d="M153.500 11 V18.800" stroke="#22a022" stroke-width="1.600"/><path d="M153.100 18.600 A7.600 7.600 0 0 0 160.700 11" stroke="#4aa84a" stroke-width="1.300" fill="none"/>
<path d="M172.600 9.200 L187.400 9.200 L181 18.700 Q179 18.500 178.500 17 Z" fill="url(#gf)" stroke="#d0a028" stroke-width=".7"/>
<ellipse cx="179.800" cy="7.600" rx="8" ry="2.500" fill="#4a9cdc" stroke="#2f78bc" stroke-width=".7"/><path d="M174.800 7.300 Q175 3 179.500 3 Q184 3 184 7.300 Q179.500 9 174.800 7.300 Z" fill="#6ab4ea" stroke="#2f78bc" stroke-width=".7"/>
<circle cx="184.600" cy="14.600" r="3.900" fill="#e02818" stroke="#b01408" stroke-width=".6"/><rect x="183.100" y="13.100" width="3" height="3" fill="#fff"/>
<text x="193" y="14.300" font-size="12" fill="#000">自动交易</text>
<rect x="248" y="1" width="1" height="20" fill="#a0a0a0"/>
<rect x="252" y="2" width="3" height="1" fill="#a8a8a8"/><rect x="252" y="4" width="3" height="1" fill="#a8a8a8"/><rect x="252" y="6" width="3" height="1" fill="#a8a8a8"/><rect x="252" y="8" width="3" height="1" fill="#a8a8a8"/><rect x="252" y="10" width="3" height="1" fill="#a8a8a8"/><rect x="252" y="12" width="3" height="1" fill="#a8a8a8"/><rect x="252" y="14" width="3" height="1" fill="#a8a8a8"/><rect x="252" y="16" width="3" height="1" fill="#a8a8a8"/><rect x="252" y="18" width="3" height="1" fill="#a8a8a8"/><rect x="252" y="20" width="3" height="1" fill="#a8a8a8"/>
<path d="M266.5 5 V19 M263.5 16.5 H277.5" stroke="#4a4a4a" stroke-width="1.1" fill="none"/><path d="M264.7 7.2 L266.5 4.8 L268.3 7.2 M275.3 14.7 L277.7 16.5 L275.3 18.3" stroke="#4a4a4a" stroke-width="1" fill="none"/>
<path d="M272.500 6 V14.500 M272.500 7.500 H275.500 M269.500 13 H272.500" stroke="#1f9a2a" stroke-width="1.500" fill="none"/>
<rect x="286" y="1" width="1" height="20" fill="#a0a0a0"/>
<rect x="287.5" y="0" width="23.0" height="22" fill="#f8f8f8" stroke="#e2e2e2" stroke-width="1"/>
<path d="M294.5 5 V19 M291.5 16.5 H305.5" stroke="#4a4a4a" stroke-width="1.1" fill="none"/><path d="M292.7 7.2 L294.5 4.8 L296.3 7.2 M303.3 14.7 L305.7 16.5 L303.3 18.3" stroke="#4a4a4a" stroke-width="1" fill="none"/>
<path d="M300.500 3 V15" stroke="#147a1c" stroke-width="1.200"/><rect x="298.500" y="5.500" width="4.500" height="7.500" fill="#2fd03a" stroke="#147a1c" stroke-width="1"/>
<path d="M322.5 5 V19 M319.5 16.5 H333.5" stroke="#4a4a4a" stroke-width="1.1" fill="none"/><path d="M320.7 7.2 L322.5 4.8 L324.3 7.2 M331.3 14.7 L333.7 16.5 L331.3 18.3" stroke="#4a4a4a" stroke-width="1" fill="none"/>
<path d="M321 14 Q326 4 335 12.500" stroke="#1f9a2a" stroke-width="1.500" fill="none"/>
<rect x="343" y="1" width="1" height="20" fill="#a0a0a0"/>
<path d="M361.5 12.500 L367 17.500" stroke="#c9952a" stroke-width="3.200" stroke-linecap="round"/><path d="M362 13 L366.5 17" stroke="#f3d36a" stroke-width="1.200" stroke-linecap="round"/><circle cx="358" cy="9" r="5.200" fill="#d8ecfb" stroke="#2f7fd1" stroke-width="1.500"/><path d="M355 9 H361" stroke="#2f6fc4" stroke-width="1.700"/><path d="M358 6 V12" stroke="#2f6fc4" stroke-width="1.700"/>
<path d="M389.5 12.500 L395 17.500" stroke="#c9952a" stroke-width="3.200" stroke-linecap="round"/><path d="M390 13 L394.5 17" stroke="#f3d36a" stroke-width="1.200" stroke-linecap="round"/><circle cx="386" cy="9" r="5.200" fill="#d8ecfb" stroke="#2f7fd1" stroke-width="1.500"/><path d="M383 9 H389" stroke="#2f6fc4" stroke-width="1.700"/>
<rect x="408" y="3" width="7.500" height="7.500" fill="#3aa528"/><rect x="408" y="3" width="7.500" height="2" fill="#1f7a14"/><rect x="409.2" y="6.2" width="5" height="3" fill="#fff" opacity=".9"/>
<rect x="416" y="3" width="7.500" height="7.500" fill="#2a55d0"/><rect x="416" y="3" width="7.500" height="2" fill="#15318f"/><rect x="417.2" y="6.2" width="5" height="3" fill="#fff" opacity=".9"/>
<rect x="408" y="11" width="7.500" height="7.500" fill="#2a55d0"/><rect x="408" y="11" width="7.500" height="2" fill="#15318f"/><rect x="409.2" y="14.2" width="5" height="3" fill="#fff" opacity=".9"/>
<rect x="416" y="11" width="7.500" height="7.500" fill="#3aa528"/><rect x="416" y="11" width="7.500" height="2" fill="#1f7a14"/><rect x="417.2" y="14.2" width="5" height="3" fill="#fff" opacity=".9"/>
<rect x="433" y="1" width="1" height="20" fill="#a0a0a0"/>
<rect x="438.5" y="0" width="25.0" height="22" fill="#f8f8f8" stroke="#e2e2e2" stroke-width="1"/>
<path d="M446.5 5 V19 M443.5 16.5 H457.5" stroke="#4a4a4a" stroke-width="1.1" fill="none"/><path d="M444.7 7.2 L446.5 4.8 L448.3 7.2 M455.3 14.7 L457.7 16.5 L455.3 18.3" stroke="#4a4a4a" stroke-width="1" fill="none"/>
<polygon points="451.5,7.5 455.5,10.5 451.5,13.5" fill="#7ee07e" stroke="#1f9a2a" stroke-width="1"/>
<rect x="466" y="1" width="1" height="20" fill="#a0a0a0"/>
<rect x="467.5" y="0" width="24.0" height="22" fill="#f8f8f8" stroke="#e2e2e2" stroke-width="1"/>
<path d="M474.5 5 V19 M471.5 16.5 H485.5" stroke="#4a4a4a" stroke-width="1.1" fill="none"/><path d="M472.7 7.2 L474.5 4.8 L476.3 7.2 M483.3 14.7 L485.7 16.5 L483.3 18.3" stroke="#4a4a4a" stroke-width="1" fill="none"/>
<path d="M480.500 4.500 V15" stroke="#2060c0" stroke-width="1.200"/><path d="M487 9.500 H482 M484.500 7 L482 9.500 L484.500 12" stroke="#d0281c" stroke-width="1.300" fill="none"/>
<rect x="495" y="1" width="1" height="20" fill="#a0a0a0"/>
<path d="M506.500 3.500 H513 L516.500 7 V15.500 H506.500 Z" fill="#fff" stroke="#666"/><path d="M509 6.500 v6 M511.500 8 v3" stroke="#888" stroke-width="1"/>
<path d="M516.500 9 V19 M511.500 14 H521.500" stroke="#0a8f12" stroke-width="4.200"/><path d="M516.500 10 V18 M512.500 14 H520.500" stroke="#2fd03a" stroke-width="2.200"/>
<polygon points="527,10 532,10 529.5,13" fill="#222"/>
<circle cx="550.800" cy="11" r="7.400" fill="#2f6fd0" stroke="#1a3f94" stroke-width="1"/><circle cx="550.800" cy="11" r="5.200" fill="#eef4fb"/><path d="M550.800 7.500 V11 H553.800" stroke="#333" stroke-width="1.100" fill="none"/>
<polygon points="565,10 570,10 567.5,13" fill="#222"/>
<rect x="581.500" y="4.500" width="16" height="13" fill="#f4f8ff" stroke="#2a55c0" stroke-width="1.400"/><rect x="581" y="4" width="17" height="3" fill="#2a55c0"/><path d="M584 11 l3 -1.500 l3 1 l3 -2 l3 .5" stroke="#c0281c" stroke-width="1.200" fill="none"/><path d="M584 15 l3 -1 l3 1.500 l3 -2 l3 1" stroke="#1f9a2a" stroke-width="1.200" fill="none"/>
<polygon points="604,10 609,10 606.5,13" fill="#222"/>
<rect x="616" y="1" width="1" height="20" fill="#a0a0a0"/>
<rect x="620" y="2" width="3" height="1" fill="#a8a8a8"/><rect x="620" y="4" width="3" height="1" fill="#a8a8a8"/><rect x="620" y="6" width="3" height="1" fill="#a8a8a8"/><rect x="620" y="8" width="3" height="1" fill="#a8a8a8"/><rect x="620" y="10" width="3" height="1" fill="#a8a8a8"/><rect x="620" y="12" width="3" height="1" fill="#a8a8a8"/><rect x="620" y="14" width="3" height="1" fill="#a8a8a8"/><rect x="620" y="16" width="3" height="1" fill="#a8a8a8"/><rect x="620" y="18" width="3" height="1" fill="#a8a8a8"/><rect x="620" y="20" width="3" height="1" fill="#a8a8a8"/>
<rect x="626" y="1" width="1" height="20" fill="#a0a0a0"/>
<rect x="628.5" y="0" width="22.0" height="22" fill="#f8f8f8" stroke="#e2e2e2" stroke-width="1"/>
<path d="M634.200 4 V15.500 L637 13 L639.200 17.500 L641 16.700 L638.800 12.300 H642.500 Z" fill="#444" stroke="#333" stroke-width=".5"/>
<path d="M666.500 4 V10 M666.500 13 V19 M659 11.500 H665 M668 11.500 H674" stroke="#555" stroke-width="1"/>
<rect x="683" y="1" width="1" height="20" fill="#a0a0a0"/>
<path d="M700.500 4 V18" stroke="#333" stroke-width="1.200"/>
<path d="M722 11.500 H736" stroke="#333" stroke-width="1.200"/>
<path d="M750.500 18 L763.500 5.500" stroke="#333" stroke-width="1.200"/>
<path d="M777 16 L790 6 M777 12 L790 2 M780 19 L792 9.500" stroke="#333" stroke-width="1"/><path d="M782 5 v12 M786 3 v12" stroke="#333" stroke-width=".8"/><text x="788" y="20" font-size="6.500" font-weight="bold" fill="#222">E</text>
<path d="M806 4.500 H820 M806 8.500 H820 M806 12.500 H820 M806 16.500 H814" stroke="#444" stroke-width="1" stroke-dasharray="1 1"/><text x="816" y="20" font-size="6.500" font-weight="bold" fill="#222">F</text>
<text x="835.500" y="16" font-size="13" fill="#444">A</text>
<rect x="862.500" y="4.500" width="12" height="12" fill="none" stroke="#444" stroke-width="1" stroke-dasharray="1 1"/><text x="864.800" y="15.300" font-size="11" font-weight="bold" fill="#444">T</text>
<path d="M891 8 l3.500 -3.500 l3.500 3.500 l-3.500 3.500 Z M897 14 l3.500 -3.500 l3.500 3.500 l-3.500 3.500 Z" fill="#333"/><path d="M892 10 l6 6" stroke="#333" stroke-width="1"/>
<polygon points="911,10 916,10 913.5,13" fill="#222"/>
<rect x="926" y="2" width="3" height="1" fill="#a8a8a8"/><rect x="926" y="4" width="3" height="1" fill="#a8a8a8"/><rect x="926" y="6" width="3" height="1" fill="#a8a8a8"/><rect x="926" y="8" width="3" height="1" fill="#a8a8a8"/><rect x="926" y="10" width="3" height="1" fill="#a8a8a8"/><rect x="926" y="12" width="3" height="1" fill="#a8a8a8"/><rect x="926" y="14" width="3" height="1" fill="#a8a8a8"/><rect x="926" y="16" width="3" height="1" fill="#a8a8a8"/><rect x="926" y="18" width="3" height="1" fill="#a8a8a8"/><rect x="926" y="20" width="3" height="1" fill="#a8a8a8"/>
<rect x="1072.500" y="0.500" width="24" height="21" fill="#f8f8f8" stroke="#dcdcdc"/>
<rect x="1072" y="0" width="1" height="22" fill="#a0a0a0"/>
<text x="937" y="14.600" font-size="9.300" fill="#444">M1</text>
<text x="965.5" y="14.600" font-size="9.300" fill="#444">M5</text>
<text x="991.5" y="14.600" font-size="9.300" fill="#444">M15</text>
<text x="1019" y="14.600" font-size="9.300" fill="#444">M30</text>
<text x="1050.5" y="14.600" font-size="9.300" fill="#444">H1</text>
<text x="1077" y="14.600" font-size="9.300" fill="#444">H4</text>
<text x="1106.5" y="14.600" font-size="9.300" fill="#444">D1</text>
<text x="1134" y="14.600" font-size="9.300" fill="#444">W1</text>
<text x="1161" y="14.600" font-size="9.300" fill="#444">MN</text>
<rect x="1183" y="1" width="1" height="20" fill="#a0a0a0"/>
<path d="M1650 11.500 L1645.500 16" stroke="#2f62c8" stroke-width="2.600" stroke-linecap="round"/><circle cx="1653.500" cy="8" r="3.900" fill="#fdfdff" stroke="#2f62c8" stroke-width="1.400"/>
<path d="M1671 13 a5.500 4.500 0 1 1 4 4.300 l-2 2.200 l.3 -2.800 a5 5 0 0 1 -2.300 -3.700 Z" fill="#e4e6ee" stroke="#b8bcc8" stroke-width=".8"/>
<circle cx="1684.500" cy="8" r="8.200" fill="#df3a24"/><circle cx="1684.500" cy="6.500" r="6.500" fill="#e8533b" opacity=".6"/><text x="1684.500" y="13.200" font-size="14" fill="#fff" text-anchor="middle">1</text>
<path d="M55.500 20 l1.500 1.500 l-1.500 1.500 l-1.500 -1.500 Z" fill="none" stroke="#222" stroke-width=".8"/>
</svg>
<svg width="220" height="62" viewBox="0 45 220 62" style="position:absolute;left:0;top:45px" font-family="'Liberation Sans',sans-serif">
<defs><linearGradient id="g1" x1="0" y1="0" x2="0" y2="1"><stop offset="0" stop-color="#f85252"/><stop offset="1" stop-color="#e02c2c"/></linearGradient><linearGradient id="g2" x1="0" y1="0" x2="0" y2="1"><stop offset="0" stop-color="#dc2a2a"/><stop offset="1" stop-color="#b00808"/></linearGradient><linearGradient id="g3" x1="0" y1="0" x2="0" y2="1"><stop offset="0" stop-color="#f4f4f4"/><stop offset=".5" stop-color="#e6e6e6"/><stop offset=".5" stop-color="#d8d8d8"/><stop offset="1" stop-color="#d0d0d0"/></linearGradient></defs>
<rect x="0" y="47" width="46.500" height="24.500" fill="url(#g1)"/><rect x="0" y="47" width="46.500" height="1" fill="#d01818"/><rect x="46" y="47" width="1" height="24" fill="#d01818"/>
<rect x="162.500" y="47" width="51.500" height="24.500" fill="url(#g1)"/><rect x="162.500" y="47" width="51.500" height="1" fill="#d01818"/><rect x="162.500" y="47" width="1" height="24" fill="#d01818"/><rect x="213" y="47" width="1" height="24" fill="#d01818"/>
<rect x="0" y="70" width="43" height="1" fill="#b81414"/><rect x="166" y="70" width="44" height="1" fill="#b81414"/>
<rect x="0" y="71" width="103.500" height="33" fill="url(#g2)"/><rect x="106" y="71" width="108" height="33" fill="url(#g2)"/>
<rect x="0" y="103" width="103.500" height="1" fill="#a00404"/><rect x="106" y="103" width="108" height="1" fill="#a00404"/>
<rect x="49.500" y="47.500" width="112" height="21" fill="#fff" stroke="#aab4c2"/>
<rect x="50.500" y="48.500" width="19.500" height="19" fill="url(#g3)" stroke="#c4c8ce" stroke-width=".6"/><rect x="139" y="48.500" width="21.500" height="19" fill="url(#g3)" stroke="#c4c8ce" stroke-width=".6"/>
<polygon points="57,56.500 62.500,56.500 59.750,59.500" fill="#4a5fc0"/><polygon points="146,59.500 151.500,59.500 148.750,56.500" fill="#4a5fc0"/>
<text x="135" y="61.600" font-size="12" text-anchor="end" fill="#000">1.00</text>
<text x="7" y="62.600" font-size="12" fill="#fff" textLength="25.5" lengthAdjust="spacingAndGlyphs">SELL</text><text x="175" y="62.600" font-size="12" fill="#fff">BUY</text>
<text x="19" y="98.600" font-size="11" font-weight="bold" fill="#fff">153</text><text x="42" y="98.600" font-size="33" fill="#fff" textLength="35" lengthAdjust="spacingAndGlyphs">61</text><text x="81.500" y="83" font-size="12" font-weight="bold" fill="#fff">7</text>
<text x="128" y="98.600" font-size="11" font-weight="bold" fill="#fff">153</text><text x="153" y="98.600" font-size="33" fill="#fff" textLength="35" lengthAdjust="spacingAndGlyphs">70</text><text x="192.500" y="83" font-size="12" font-weight="bold" fill="#fff">8</text>
</svg>
</body></html>
